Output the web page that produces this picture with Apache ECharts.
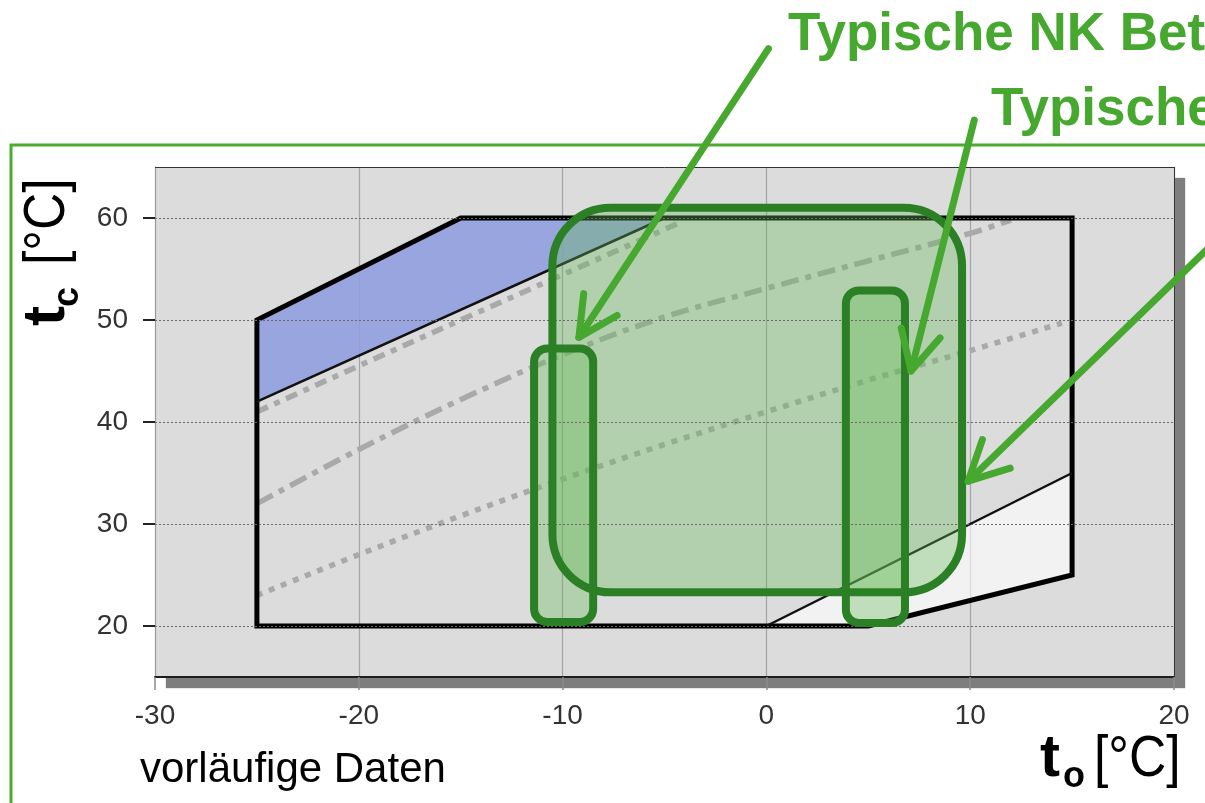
<!DOCTYPE html>
<html>
<head>
<meta charset="utf-8">
<script src="https://cdn.jsdelivr.net/npm/echarts@6/dist/echarts.min.js"></script>
<style>
  html, body { margin: 0; padding: 0; background: #ffffff; }
  #chart { width: 1205px; height: 803px; }
</style>
</head>
<body>
<div id="chart"></div>
<script>
// Axes: evaporating temperature t_o (x) and condensing temperature t_c (y), in °C
const xTicks = [-30, -20, -10, 0, 10, 20];
const yTicks = [20, 30, 40, 50, 60];
const xRange = [-30, 20];
const yRange = [15, 65];

// Application envelope outline (t_o, t_c)
const envelope = [[-25, 20], [-25, 50], [-15, 60], [15, 60], [15, 25], [5, 20]];
// Zone above the upper limit line and zone below the lower limit line
const blueZone = [[-25, 42], [-25, 50], [-15, 60], [-5, 60]];
const lightZone = [[0, 20], [15, 35], [15, 25], [5, 20]];
const upperLimit = [[-25, 42], [-5, 60]];
const lowerLimit = [[0, 20], [15, 35]];

// Gray reference curves inside the envelope
const curveA = [[-25, 41], [-15, 50], [-4.3, 59.5]];
const curveB = [[-25, 32], [-20, 37.3], [-15, 42.2], [-10, 46.6], [-5, 50.3], [0, 53.1], [5, 55.8], [10, 58.5], [12, 59.8]];
const curveC = [[-25, 23], [-20, 27], [-15, 30.8], [-10, 34.4], [-5, 37.8], [0, 41], [5, 44.1], [10, 47], [14.5, 49.7]];

// Typical operating ranges: [t_o min, t_o max, t_c min, t_c max]
const rangeAll = [-10.5, 9.6, 23.3, 61.0];
const rangeNK = [-11.4, -8.5, 20.4, 47.2];
const rangeHK = [3.9, 6.8, 20.3, 52.9];

// Pointer arrows: tail and tip (t_o, t_c)
const arrowTails = [[0.1, 76.6], [10.2, 69.6], [22.8, 59.2]];
const arrowTips = [[-9.2, 48.3], [7.1, 45.0], [9.9, 34.2]];

const FONT = '"Liberation Sans", Arial, Helvetica, sans-serif';
const GREEN = '#46a82e';
const DARK_GREEN = '#2b8026';

const zones = [
  { pts: blueZone, fill: 'rgba(144,159,222,0.9)' },
  { pts: lightZone, fill: 'rgba(255,255,255,0.62)' }
];
const ranges = [rangeAll, rangeNK, rangeHK];
const rangeRadius = [58, 13, 13];

function rangeRect(api, idx) {
  const r = ranges[idx];
  const p0 = api.coord([r[0], r[3]]);
  const p1 = api.coord([r[1], r[2]]);
  return { x: p0[0], y: p0[1], width: p1[0] - p0[0], height: p1[1] - p0[1], r: rangeRadius[idx] };
}

const chart = echarts.init(document.getElementById('chart'), null, { renderer: 'canvas' });

const frameLine = { type: 'solid', color: '#333333', width: 1 };
const gridLine = { type: [2, 2], color: '#6a6a6a', width: 1 };

const option = {
  animation: false,
  backgroundColor: '#ffffff',
  grid: {
    left: 155, right: 31, top: 167, bottom: 126,
    show: true,
    backgroundColor: '#dcdcdc',
    borderWidth: 0,
    shadowColor: '#7e7e7e',
    shadowBlur: 1,
    shadowOffsetX: 11,
    shadowOffsetY: 11,
    outerBoundsMode: 'none'
  },
  xAxis: {
    type: 'value', min: xRange[0], max: xRange[1], interval: 10,
    axisLine: { show: true, onZero: false, lineStyle: { color: '#1e1e1e', width: 2 } },
    axisTick: { show: true, length: 13, lineStyle: { color: '#8a8a8a', width: 1.5 } },
    splitLine: { show: true, lineStyle: { color: '#a4a4a4', width: 1.2 } },
    axisLabel: { fontSize: 28, color: '#333333', margin: 25, fontFamily: FONT }
  },
  yAxis: {
    type: 'value', min: yRange[0], max: yRange[1],
    axisLine: { show: true, onZero: false, lineStyle: { color: '#999999', width: 1 } },
    axisTick: { show: true, customValues: yTicks, length: 12, lineStyle: { color: '#222222', width: 2 } },
    splitLine: { show: false },
    axisLabel: { customValues: yTicks, fontSize: 28, color: '#333333', margin: 27, fontFamily: FONT }
  },
  series: [
    {
      // shaded zones of the envelope
      type: 'custom', z: 1, silent: true,
      data: zones.map((_, i) => [i, i]),
      renderItem: (params, api) => ({
        type: 'polygon',
        shape: { points: zones[params.dataIndex].pts.map(p => api.coord(p)) },
        style: { fill: zones[params.dataIndex].fill }
      })
    },
    {
      type: 'line', z: 2, silent: true, data: curveA, smooth: false, symbol: 'none',
      lineStyle: { color: '#a9a9a9', width: 5.5, type: [12, 7, 6, 7], cap: 'butt' }
    },
    {
      type: 'line', z: 2, silent: true, data: curveB, smooth: 0.35, symbol: 'none',
      lineStyle: { color: '#a9a9a9', width: 5.5, type: [18, 7, 6, 7], cap: 'butt' }
    },
    {
      type: 'line', z: 2, silent: true, data: curveC, smooth: 0.35, symbol: 'none',
      lineStyle: { color: '#a9a9a9', width: 5.5, type: [6, 7], cap: 'butt' }
    },
    {
      type: 'line', z: 3, silent: true, data: upperLimit, symbol: 'none',
      lineStyle: { color: '#111111', width: 2.5 },
      markLine: {
        silent: true, symbol: ['none', 'none'], label: { show: false },
        lineStyle: gridLine,
        data: yTicks.map(v => ({ yAxis: v }))
          .concat([{ yAxis: yRange[1], lineStyle: frameLine }, { xAxis: xRange[1], lineStyle: frameLine }])
      }
    },
    {
      type: 'line', z: 3, silent: true, data: lowerLimit, symbol: 'none',
      lineStyle: { color: '#111111', width: 2.5 }
    },
    {
      // envelope outline
      type: 'custom', z: 3, silent: true,
      data: [[0, 0]],
      renderItem: (params, api) => ({
        type: 'polygon',
        shape: { points: envelope.map(p => api.coord(p)) },
        style: { fill: null, stroke: '#000000', lineWidth: 5, lineJoin: 'miter' }
      })
    },
    {
      // operating range fills
      type: 'custom', z: 4, silent: true,
      data: ranges.map((_, i) => [i, i]),
      renderItem: (params, api) => ({
        type: 'rect',
        shape: rangeRect(api, params.dataIndex),
        style: { fill: 'rgba(100,186,85,0.35)' }
      })
    },
    {
      // operating range outlines
      type: 'custom', z: 5, silent: true,
      data: ranges.map((_, i) => [i, i]),
      renderItem: (params, api) => ({
        type: 'rect',
        shape: rangeRect(api, params.dataIndex),
        style: { fill: null, stroke: DARK_GREEN, lineWidth: 8 }
      })
    },
    {
      // pointer arrows
      type: 'custom', z: 6, silent: true, clip: false,
      data: arrowTails.map((_, i) => [i, i]),
      renderItem: (params, api) => {
        const i = params.dataIndex;
        const a = api.coord(arrowTails[i]);
        const b = api.coord(arrowTips[i]);
        const ang = Math.atan2(a[1] - b[1], a[0] - b[0]);
        const L = 44, s = 27 * Math.PI / 180;
        const h1 = [b[0] + L * Math.cos(ang - s), b[1] + L * Math.sin(ang - s)];
        const h2 = [b[0] + L * Math.cos(ang + s), b[1] + L * Math.sin(ang + s)];
        return {
          type: 'group',
          children: [
            { type: 'line', shape: { x1: a[0], y1: a[1], x2: b[0], y2: b[1] },
              style: { stroke: GREEN, lineWidth: 7, lineCap: 'round' } },
            { type: 'polyline', shape: { points: [h1, b, h2] },
              style: { stroke: GREEN, lineWidth: 7, lineCap: 'round', lineJoin: 'round', fill: null } }
          ]
        };
      }
    }
  ],
  graphic: [
    {
      type: 'polyline', z: 1, silent: true,
      shape: { points: [[11, 803], [11, 145], [1205, 145]] },
      style: { stroke: '#4caa30', lineWidth: 3, fill: null }
    },
    {
      type: 'text', z: 10, x: 788, y: 62, silent: true,
      style: { text: 'Typische NK Bet', fontSize: 53, fontWeight: 'bold', fontFamily: FONT,
               fill: GREEN, textAlign: 'left', verticalAlign: 'bottom' }
    },
    {
      type: 'text', z: 10, x: 991, y: 137, silent: true,
      style: { text: 'Typische', fontSize: 53, fontWeight: 'bold', fontFamily: FONT,
               fill: GREEN, textAlign: 'left', verticalAlign: 'bottom' }
    },
    {
      type: 'text', z: 10, x: 140, y: 791, silent: true,
      style: { text: 'vorläufige Daten', fontSize: 42, fontFamily: FONT,
               fill: '#000000', textAlign: 'left', verticalAlign: 'bottom' }
    },
    // x-axis title: t_o [°C]
    {
      type: 'group', silent: true, z: 10,
      children: [
        { type: 'text', x: 1040, y: 789,
          style: { text: 't', fontSize: 60, fontWeight: 'bold', fontFamily: FONT, fill: '#000', verticalAlign: 'bottom' } },
        { type: 'text', x: 1063, y: 795,
          style: { text: 'o', fontSize: 36, fontWeight: 'bold', fontFamily: FONT, fill: '#000', verticalAlign: 'bottom' } },
        { type: 'text', x: 1094, y: 789, scaleX: 0.89,
          style: { text: '[°C]', fontSize: 58, fontFamily: FONT, fill: '#000', verticalAlign: 'bottom' } }
      ]
    },
    // y-axis title: t_c [°C], reading bottom to top
    {
      type: 'group', silent: true, z: 10, x: 68, y: 326, rotation: Math.PI / 2,
      children: [
        { type: 'text', x: 0, y: 9,
          style: { text: 't', fontSize: 60, fontWeight: 'bold', fontFamily: FONT, fill: '#000', verticalAlign: 'bottom' } },
        { type: 'text', x: 19, y: 18,
          style: { text: 'c', fontSize: 36, fontWeight: 'bold', fontFamily: FONT, fill: '#000', verticalAlign: 'bottom' } },
        { type: 'text', x: 61, y: 9, scaleX: 0.89,
          style: { text: '[°C]', fontSize: 58, fontFamily: FONT, fill: '#000', verticalAlign: 'bottom' } }
      ]
    }
  ]
};

chart.setOption(option);
</script>
</body>
</html>
